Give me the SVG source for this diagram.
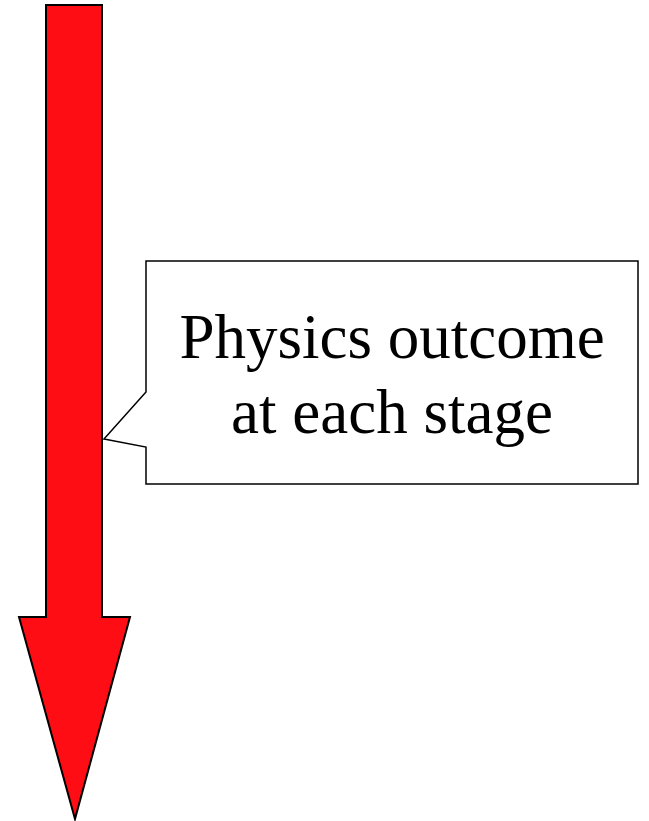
<svg xmlns="http://www.w3.org/2000/svg" width="649" height="821" viewBox="0 0 649 821">
<style>
.arrow{fill:#ff0d14;stroke:#000;stroke-width:2;stroke-linejoin:miter}
.callout{fill:#fff;stroke:#000;stroke-width:1.5}
.label{font-family:"Liberation Serif","Times New Roman",serif;font-size:63px;fill:#000;text-anchor:middle}
</style>
<g id="arrow">
<path class="arrow" d="M46,5 L102,5 L102,617 L130,617 L75,819 L19,617 L46,617 Z"/>
</g>
<g id="callout">
<path class="callout" d="M146,261 L638,261 L638,484 L146,484 L146,447 L104,439 L146,392 Z"/>
<text class="label" x="392" y="358">Physics outcome</text>
<text class="label" x="392" y="433">at each stage</text>
</g>
</svg>
